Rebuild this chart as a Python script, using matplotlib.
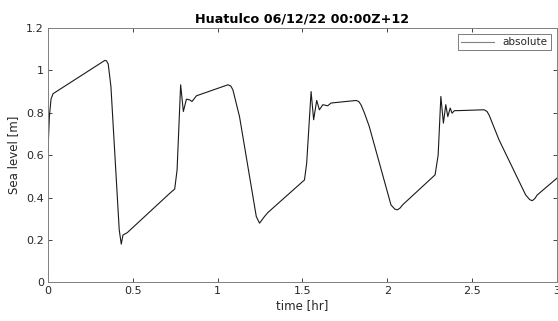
import matplotlib.pyplot as plt

# time [hr] and sea level [m]
time_hr = [0.0, 0.008, 0.018, 0.03, 0.335, 0.345, 0.355, 0.371, 0.42, 0.432, 0.442, 0.467,
           0.718, 0.747, 0.761, 0.782, 0.798, 0.816, 0.835, 0.849, 0.875, 1.061,
           1.078, 1.09, 1.105, 1.129, 1.228, 1.247, 1.276, 1.296, 1.512, 1.525, 1.551, 1.566,
           1.584, 1.6, 1.62, 1.649, 1.669, 1.816, 1.832, 1.845, 1.865, 1.894, 2.022, 2.045, 2.06,
           2.075, 2.09, 2.282, 2.3, 2.316, 2.331, 2.345, 2.357, 2.371, 2.382, 2.396,
           2.414, 2.571, 2.588, 2.6, 2.625, 2.659, 2.816, 2.84, 2.855, 2.87, 2.884, 3.0]
sea_level = [0.62, 0.78, 0.865, 0.89, 1.047, 1.045, 1.03, 0.924, 0.247, 0.18, 0.223, 0.234,
             0.42, 0.44, 0.53, 0.932, 0.806, 0.864, 0.861, 0.853, 0.88, 0.932,
             0.926, 0.908, 0.86, 0.782, 0.31, 0.279, 0.31, 0.329, 0.483, 0.562, 0.9, 0.767,
             0.858, 0.814, 0.838, 0.833, 0.846, 0.858, 0.853, 0.838, 0.8, 0.735, 0.365, 0.345, 0.342,
             0.35, 0.365, 0.507, 0.6, 0.877, 0.751, 0.838, 0.782, 0.822, 0.798, 0.81,
             0.81, 0.814, 0.806, 0.79, 0.74, 0.672, 0.412, 0.39, 0.385, 0.395, 0.412, 0.491]

xticks = [0, 0.5, 1, 1.5, 2, 2.5, 3]
xtick_labels = ['0', '0.5', '1', '1.5', '2', '2.5', '3']
yticks = [0, 0.2, 0.4, 0.6, 0.8, 1, 1.2]
ytick_labels = ['0', '0.2', '0.4', '0.6', '0.8', '1', '1.2']

fig = plt.figure(figsize=(5.58, 3.21), dpi=100)
ax = fig.add_axes([0.086, 0.1206, 0.912, 0.7922])

ax.plot(time_hr, sea_level, color='#1a1a1a', lw=0.8, label='absolute')

ax.set_xlim(0, 3)
ax.set_ylim(0, 1.2)
ax.set_xticks(xticks, xtick_labels)
ax.set_yticks(yticks, ytick_labels)
ax.tick_params(direction='in', top=True, right=True, length=3, width=0.6,
               colors='#262626', labelsize=8, pad=3)
for spine in ax.spines.values():
    spine.set_color('#808080')
    spine.set_linewidth(0.7)

ax.set_xlabel('time [hr]', fontsize=8.5, color='#262626', labelpad=2)
ax.set_ylabel('Sea level [m]', fontsize=8.5, color='#262626', labelpad=4)
ax.set_title('Huatulco 06/12/22 00:00Z+12', fontsize=9.2, fontweight='bold', pad=4)

leg = ax.legend(loc='upper right', fontsize=7.5, frameon=True, fancybox=False,
                handlelength=3.2, borderpad=0.3, borderaxespad=0.6)
leg.get_frame().set_edgecolor('#404040')
leg.get_frame().set_linewidth(0.6)
leg.get_lines()[0].set_color('#808080')
for text in leg.get_texts():
    text.set_color('#262626')

plt.savefig('out.png', dpi=100)
